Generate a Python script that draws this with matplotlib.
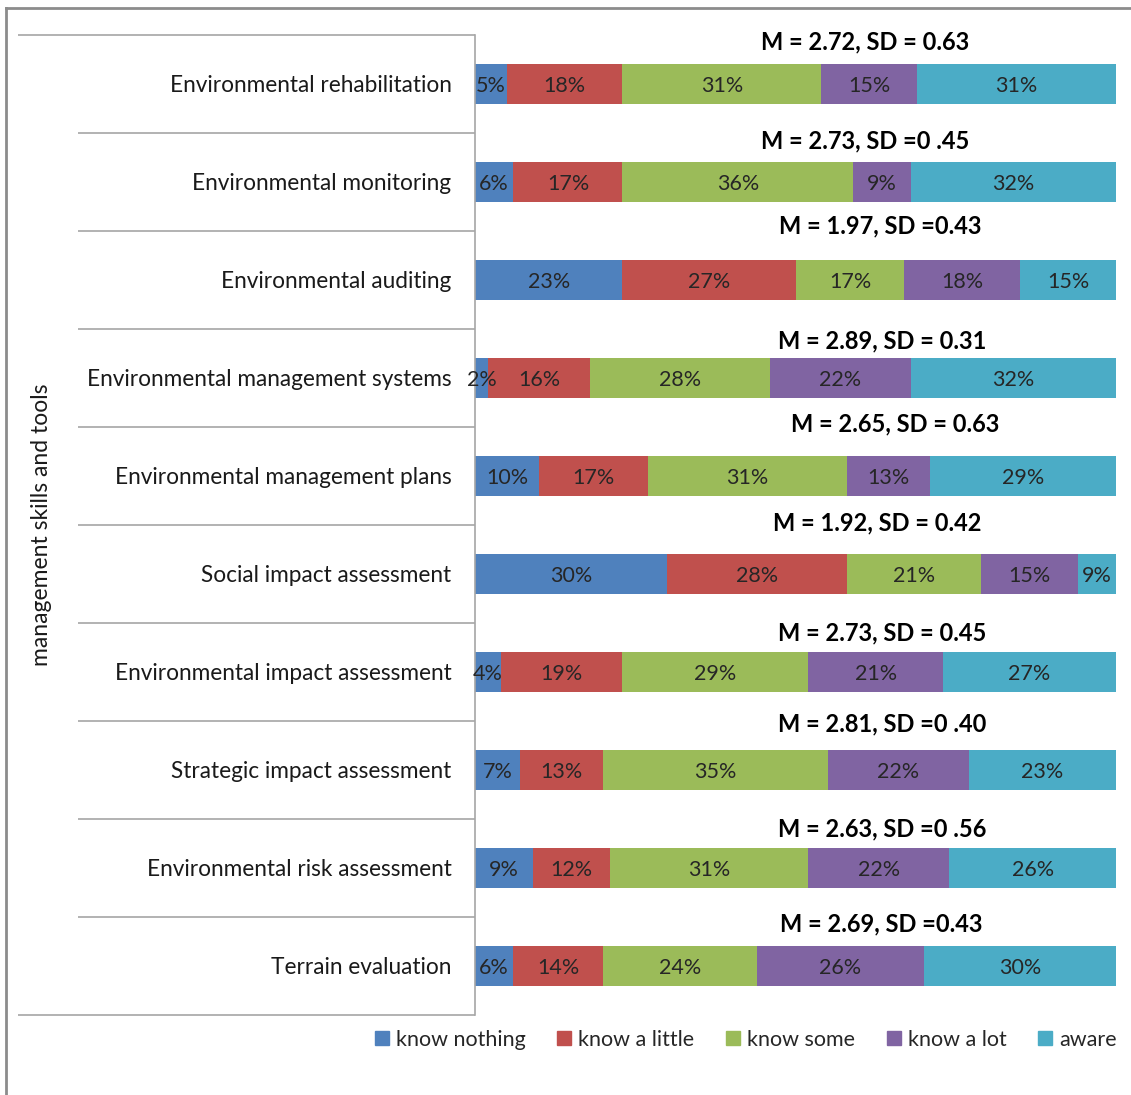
import matplotlib.pyplot as plt
from matplotlib.lines import Line2D
import numpy as np

plt.rcParams['font.family'] = ['Lato', 'DejaVu Sans']

# Data
skills = ['Environmental rehabilitation', 'Environmental monitoring',
          'Environmental auditing', 'Environmental management systems',
          'Environmental management plans', 'Social impact assessment',
          'Environmental impact assessment', 'Strategic impact assessment',
          'Environmental risk assessment', 'Terrain evaluation']
levels = ['know nothing', 'know a little', 'know some', 'know a lot', 'aware']

know_nothing = [5, 6, 23, 2, 10, 30, 4, 7, 9, 6]
know_little = [18, 17, 27, 16, 17, 28, 19, 13, 12, 14]
know_some = [31, 36, 17, 28, 31, 21, 29, 35, 31, 24]
know_lot = [15, 9, 18, 22, 13, 15, 21, 22, 22, 26]
aware = [31, 32, 15, 32, 29, 9, 27, 23, 26, 30]

stats = ['M = 2.72, SD = 0.63', 'M = 2.73, SD =0 .45', 'M = 1.97, SD =0.43',
         'M = 2.89, SD = 0.31', 'M = 2.65, SD = 0.63', 'M = 1.92, SD = 0.42',
         'M = 2.73, SD = 0.45', 'M = 2.81, SD =0 .40', 'M = 2.63, SD =0 .56',
         'M = 2.69, SD =0.43']

colors = ['#4F81BD', '#C0504D', '#9BBB59', '#8064A2', '#4BACC6']

# where the M/SD line sits: x in percent, offset above bar centre in rows
stat_x = [60.8, 60.8, 63.2, 63.5, 65.5, 62.8, 63.5, 63.5, 63.5, 63.3]
stat_dy = [0.43, 0.42, 0.55, 0.38, 0.53, 0.52, 0.40, 0.47, 0.40, 0.43]

W, H = 1131, 1095
fig = plt.figure(figsize=(W / 100, H / 100), dpi=100)
ax = fig.add_axes([475 / W, (H - 1015) / H, (1116 - 475) / W, 980 / H])

y = np.arange(len(skills))
series = [know_nothing, know_little, know_some, know_lot, aware]
left = np.zeros(len(skills))
for vals, col, lab in zip(series, colors, levels):
    vals = np.array(vals, dtype=float)
    ax.barh(y, vals, left=left, height=0.41, color=col, label=lab)
    for yi, l, v in zip(y, left, vals):
        xc = (l + min(l + v, 100)) / 2
        ax.text(xc, yi + 0.02, f'{int(v)}%', ha='center', va='center',
                fontsize=15.5, color='#262626')
    left += vals

for yi, s, sx, dy in zip(y, stats, stat_x, stat_dy):
    ax.text(sx, yi - dy, s, ha='center', va='center', fontsize=17,
            fontweight='bold', color='black',
            bbox=dict(facecolor='white', edgecolor='none', pad=1.0))

ax.set_xlim(0, 100)
ax.set_ylim(9.5, -0.5)
ax.set_xticks([])
ax.set_yticks(y, skills, fontsize=16.3, color='#1a1a1a')
ax.tick_params(axis='y', length=0, pad=17)
for side in ['top', 'right', 'bottom']:
    ax.spines[side].set_visible(False)
ax.spines['left'].set_color('#a6a6a6')
ax.spines['left'].set_linewidth(1.2)

# category table rules on the left
gray = '#a6a6a6'
ax.hlines(np.arange(0.5, 9.5, 1), (78 - 475) / 641, 0,
          transform=ax.get_yaxis_transform(), clip_on=False,
          color=gray, lw=1.2)
ax.hlines([-0.5, 9.5], (18 - 475) / 641, 0,
          transform=ax.get_yaxis_transform(), clip_on=False,
          color=gray, lw=1.2)

fig.text(42 / W, 1 - 525 / H, 'management skills and tools', rotation=90,
         ha='center', va='center', fontsize=16.5, color='#1a1a1a')

# outer frame edges
fig.add_artist(Line2D([6 / W, 1], [1 - 8 / H, 1 - 8 / H], color='#8c8c8c', lw=2))
fig.add_artist(Line2D([6 / W, 6 / W], [0, 1 - 8 / H], color='#8c8c8c', lw=2))

handles = [Line2D([], [], marker='s', ls='none', markersize=9.5,
                  markerfacecolor=c, markeredgecolor=c) for c in colors]
fig.legend(handles, levels, loc='center', bbox_to_anchor=(746 / W, 1 - 1040 / H),
           ncol=5, frameon=False, fontsize=15.5, handlelength=0.6,
           handletextpad=0.35, columnspacing=1.5, labelcolor='#262626')

fig.savefig('out.png', dpi=100)
